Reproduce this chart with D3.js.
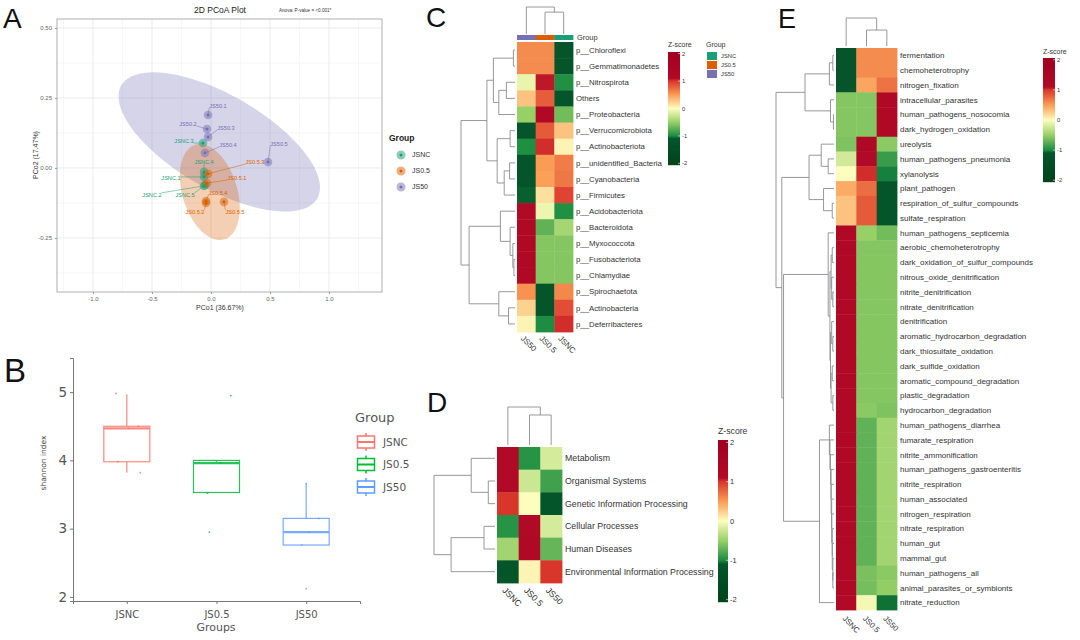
<!DOCTYPE html>
<html>
<head>
<meta charset="utf-8">
<script src="https://cdn.jsdelivr.net/npm/d3@7"></script>
<style>
  body { margin: 0; background: #fff; }
  svg { font-family: "Liberation Sans", Arial, sans-serif; }
</style>
</head>
<body>
<svg id="fig" width="1080" height="640"></svg>
<script>
// ---------- panel A : PCoA ----------
var groupNames = ["JSNC", "JS0.5", "JS50"];
var groupColours = ["#1b9e77", "#d95f02", "#7570b3"];

var sampleNames = ["JSNC.1", "JSNC.2", "JSNC.3", "JSNC.4", "JSNC.5",
                   "JS0.5.1", "JS0.5.2", "JS0.5.3", "JS0.5.4", "JS0.5.5",
                   "JS50.1", "JS50.2", "JS50.3", "JS50.4", "JS50.5"];
var sampleGroup = ["JSNC", "JSNC", "JSNC", "JSNC", "JSNC",
                   "JS0.5", "JS0.5", "JS0.5", "JS0.5", "JS0.5",
                   "JS50", "JS50", "JS50", "JS50", "JS50"];
var pco1 = [-0.059, -0.059, -0.068, -0.059, -0.051, -0.034, -0.042, -0.025, -0.042, 0.110, -0.025, -0.034, -0.025, -0.051, 0.483];
var pco2 = [-0.032, -0.064, 0.089, -0.014, -0.061, -0.054, -0.125, -0.021, -0.118, -0.121, 0.189, 0.139, 0.111, 0.054, 0.021];
// where the repelled labels ended up (data units)
var labelPco1 = [-0.339, -0.50, -0.229, -0.059, -0.22, 0.22, -0.136, 0.373, 0.059, 0.203, 0.059, -0.195, 0.127, 0.144, 0.576];
var labelPco2 = [-0.036, -0.096, 0.096, 0.021, -0.096, -0.036, -0.157, 0.021, -0.089, -0.157, 0.221, 0.157, 0.143, 0.082, 0.086];

var ellipseGroup = ["JS50", "JS0.5"];
var ellipseCentre = [[0.07, 0.093], [-0.01, -0.086]];
var ellipseAxisA = [[0.83, -0.202], [0.123, -0.169]];
var ellipseAxisB = [[-0.199, -0.145], [0.222, 0.0286]];

var pcoaXTicks = [-1.0, -0.5, 0.0, 0.5, 1.0];
var pcoaYTicks = [0.50, 0.25, 0.00, -0.25];

// ---------- panel B : shannon boxplot ----------
var alphaGroups = ["JSNC", "JS0.5", "JS50"];
var alphaColours = ["#F8766D", "#00BA38", "#619CFF"];
var whiskerLow = [3.82, 3.53, 2.76];
var hingeLow = [3.98, 3.53, 2.76];
var shannonMedian = [4.47, 3.96, 2.95];
var hingeHigh = [4.50, 4.00, 3.15];
var whiskerHigh = [4.97, 4.00, 3.66];
var shannonGroup = ["JSNC", "JSNC", "JSNC", "JSNC", "JSNC",
                    "JS0.5", "JS0.5", "JS0.5", "JS0.5", "JS0.5",
                    "JS50", "JS50", "JS50", "JS50", "JS50"];
var shannonValue = [4.98, 4.50, 4.47, 3.98, 3.82, 4.95, 3.99, 3.96, 3.52, 2.95, 3.66, 3.15, 2.95, 2.76, 2.12];
var shannonJitter = [-0.12, 0.13, 0.02, -0.10, 0.15, 0.16, 0.00, 0.05, -0.10, -0.08, 0.00, 0.14, 0.03, -0.05, 0.00];
var shannonTicks = [2, 3, 4, 5];

// ---------- heatmaps ----------
var zTicks = [2, 1, 0, -1, -2];
var zBreaks = [-2, -1.1, -1, -0.5, 0, 0.5, 1, 1.1, 2];
var zPalette = ["#00441b", "#05552b", "#1a8c41", "#98d068", "#fdfdbe", "#fa9c55", "#d9362b", "#b10a26", "#a20022"];

var N = function(h, a, b) { return {h: h, c: [a, b]}; };
var L = function(i) { return {i: i}; };

// C : phyla
var phylaCols = ["JS50", "JS0.5", "JSNC"];
var phylaRows = ["p__Chloroflexi", "p__Gemmatimonadetes", "p__Nitrospirota", "Others", "p__Proteobacteria",
  "p__Verrucomicrobiota", "p__Actinobacteriota", "p__unidentified_Bacteria", "p__Cyanobacteria", "p__Firmicutes",
  "p__Acidobacteriota", "p__Bacteroidota", "p__Myxococcota", "p__Fusobacteriota", "p__Chlamydiae",
  "p__Spirochaetota", "p__Actinobacteria", "p__Deferribacteres"];
var phylaZ = [
  [0.577, 0.577, -1.155], [0.577, 0.577, -1.155], [-0.10, 1.07, -0.97], [0.30, 0.81, -1.11],
  [-0.50, 1.15, -0.65], [-1.12, 0.82, 0.30], [-0.98, 1.02, 0.05], [-1.155, 0.50, 0.65],
  [-1.155, 0.48, 0.68], [-1.08, 0.15, 0.93], [1.10, -0.08, -0.97], [1.155, -0.72, -0.43],
  [1.155, -0.577, -0.577], [1.155, -0.577, -0.577], [1.155, -0.577, -0.577],
  [0.55, -1.155, 0.60], [0.22, -1.10, 0.88], [0.05, -0.99, 1.02]];
var phylaTop = N(0.52,
  N(0.40, N(0.03, L(0), L(1)), N(0.30, N(0.16, L(2), L(3)), L(4))),
  N(0.33, N(0.09, L(5), L(6)), N(0.20, N(0.10, L(7), L(8)), L(9))));
var phylaBottom = N(0.85,
  N(0.27, L(10), N(0.09, L(11), N(0.04, L(12), N(0.02, L(13), L(14))))),
  N(0.30, L(15), N(0.12, L(16), L(17))));
var phylaRowTree = N(1, phylaTop, phylaBottom);
var phylaColTree = N(1, L(0), N(0.81, L(1), L(2)));

// D : KEGG level 1
var keggCols = ["JSNC", "JS0.5", "JS50"];
var keggRows = ["Metabolism", "Organismal Systems", "Genetic Information Processing",
  "Cellular Processes", "Human Diseases", "Environmental Information Processing"];
var keggZ = [[1.10, -0.95, -0.20], [1.10, -0.25, -0.85], [1.00, 0.00, -1.12],
             [-0.95, 1.10, -0.20], [-0.45, 1.15, -0.70], [-1.12, 0.05, 1.00]];
var keggRowTree = N(1, N(0.39, L(0), N(0.11, L(1), L(2))), N(0.72, N(0.18, L(3), L(4)), L(5)));
var keggColTree = N(1, L(0), N(0.79, L(1), L(2)));

// E : FAPROTAX functions
var funcCols = ["JSNC", "JS0.5", "JS50"];
var funcRows = ["fermentation", "chemoheterotrophy", "nitrogen_fixation", "intracellular_parasites",
  "human_pathogens_nosocomia", "dark_hydrogen_oxidation", "ureolysis", "human_pathogens_pneumonia",
  "xylanolysis", "plant_pathogen", "respiration_of_sulfur_compounds", "sulfate_respiration",
  "human_pathogens_septicemia", "aerobic_chemoheterotrophy", "dark_oxidation_of_sulfur_compounds",
  "nitrous_oxide_denitrification", "nitrite_denitrification", "nitrate_denitrification", "denitrification",
  "aromatic_hydrocarbon_degradation", "dark_thiosulfate_oxidation", "dark_sulfide_oxidation",
  "aromatic_compound_degradation", "plastic_degradation", "hydrocarbon_degradation",
  "human_pathogens_diarrhea", "fumarate_respiration", "nitrite_ammonification",
  "human_pathogens_gastroenteritis", "nitrite_respiration", "human_associated", "nitrogen_respiration",
  "nitrate_respiration", "human_gut", "mammal_gut", "human_pathogens_all",
  "animal_parasites_or_symbionts", "nitrate_reduction"];
var funcZ = [
  [-1.155, 0.577, 0.577], [-1.155, 0.577, 0.577], [-1.15, 0.45, 0.70],
  [-0.577, -0.577, 1.155], [-0.577, -0.577, 1.155], [-0.577, -0.577, 1.155],
  [-0.60, 1.15, -0.55], [-0.22, 1.10, -0.88], [0.00, 1.02, -1.02],
  [0.42, 0.73, -1.15], [0.30, 0.82, -1.12], [0.30, 0.82, -1.12],
  [1.155, -0.50, -0.65], [1.155, -0.577, -0.577], [1.155, -0.577, -0.577], [1.155, -0.577, -0.577],
  [1.155, -0.577, -0.577], [1.155, -0.577, -0.577], [1.155, -0.577, -0.577], [1.155, -0.577, -0.577],
  [1.155, -0.577, -0.577], [1.155, -0.577, -0.577], [1.155, -0.577, -0.577], [1.155, -0.577, -0.577],
  [1.155, -0.55, -0.60],
  [1.15, -0.72, -0.45], [1.15, -0.72, -0.45], [1.15, -0.72, -0.45], [1.15, -0.72, -0.45], [1.15, -0.72, -0.45],
  [1.15, -0.72, -0.45], [1.15, -0.72, -0.45], [1.15, -0.72, -0.45], [1.15, -0.72, -0.45], [1.15, -0.72, -0.45],
  [1.155, -0.62, -0.55], [1.155, -0.64, -0.52], [1.10, -0.05, -1.05]];
var funcT1 = N(0.50, N(0.08, N(0.02, L(0), L(1)), L(2)), N(0.06, L(3), N(0.01, L(4), L(5))));
var funcT2 = N(0.43, N(0.22, L(6), N(0.10, L(7), L(8))), N(0.18, L(9), N(0.03, L(10), L(11))));
var funcA3a = N(0.05, N(0.03, L(13), L(14)), N(0.04, L(15), N(0.02, L(16), L(17))));
var funcA3b = N(0.06, N(0.04, L(18), N(0.02, L(19), L(20))), N(0.05, N(0.03, L(21), L(22)), N(0.02, L(23), L(24))));
var funcA3 = N(0.10, L(12), N(0.07, funcA3a, funcA3b));
var funcB3c = N(0.03, L(32), N(0.03, L(33), N(0.02, L(34), N(0.02, L(35), L(36)))));
var funcB3b = N(0.05, L(28), N(0.05, L(29), N(0.04, L(30), N(0.04, L(31), funcB3c))));
var funcB3 = N(0.25, N(0.08, L(25), N(0.07, L(26), N(0.06, L(27), funcB3b))), L(37));
var funcRowTree = N(1, funcT1, N(0.90, funcT2, N(0.87, funcA3, funcB3)));
var funcColTree = N(1, L(0), N(0.57, L(1), L(2)));

// =====================================================
var svg = d3.select("#fig");
var colourOf = d3.scaleOrdinal().domain(groupNames).range(groupColours);
var zColour = d3.scaleLinear().domain(zBreaks).range(zPalette).clamp(true);

function panelLetter(t, x, y, size) {
  svg.append("text").attr("x", x).attr("y", y).attr("font-size", size).attr("fill", "#111").text(t);
}

// ---------------- A ----------------
(function() {
  var g = svg.append("g");
  var x = d3.scaleLinear().domain([-1.305, 1.449]).range([57, 382]);
  var y = d3.scaleLinear().domain([-0.443, 0.532]).range([292, 19]);

  var xMinor = pcoaXTicks.map(function(t) { return t - 0.25; }).concat([1.25]);
  var yMinor = pcoaYTicks.map(function(t) { return t - 0.125; }).filter(function(t) { return t > -0.443 && t < 0.532; });

  g.append("rect").attr("x", 57).attr("y", 19).attr("width", 325).attr("height", 273).attr("fill", "#fff");
  g.selectAll(".vminor").data(xMinor).join("line")
    .attr("x1", x).attr("x2", x).attr("y1", 19).attr("y2", 292).attr("stroke", "#f2f2f2").attr("stroke-width", 0.6);
  g.selectAll(".hminor").data(yMinor).join("line")
    .attr("y1", y).attr("y2", y).attr("x1", 57).attr("x2", 382).attr("stroke", "#f2f2f2").attr("stroke-width", 0.6);
  g.selectAll(".vmajor").data(pcoaXTicks).join("line")
    .attr("x1", x).attr("x2", x).attr("y1", 19).attr("y2", 292).attr("stroke", "#e6e6e6").attr("stroke-width", 0.8);
  g.selectAll(".hmajor").data(pcoaYTicks).join("line")
    .attr("y1", y).attr("y2", y).attr("x1", 57).attr("x2", 382).attr("stroke", "#e6e6e6").attr("stroke-width", 0.8);

  // ellipses
  ellipseGroup.forEach(function(grp, k) {
    var c = ellipseCentre[k], a = ellipseAxisA[k], b = ellipseAxisB[k];
    var pts = d3.range(0, 361, 4).map(function(deg) {
      var t = deg * Math.PI / 180;
      return [x(c[0] + a[0] * Math.cos(t) + b[0] * Math.sin(t)), y(c[1] + a[1] * Math.cos(t) + b[1] * Math.sin(t))];
    });
    g.append("path").attr("d", d3.line()(pts) + "Z")
      .attr("fill", colourOf(grp)).attr("fill-opacity", 0.3).attr("stroke", "none");
  });

  g.append("rect").attr("x", 57).attr("y", 19).attr("width", 325).attr("height", 273)
    .attr("fill", "none").attr("stroke", "#a6a6a6").attr("stroke-width", 0.9);

  // points
  var pts = g.append("g");
  sampleNames.forEach(function(n, i) {
    pts.append("circle").attr("cx", x(pco1[i])).attr("cy", y(pco2[i])).attr("r", 4.3)
      .attr("fill", colourOf(sampleGroup[i])).attr("fill-opacity", 0.5);
    pts.append("circle").attr("cx", x(pco1[i])).attr("cy", y(pco2[i])).attr("r", 1.5)
      .attr("fill", colourOf(sampleGroup[i]));
  });

  // labels with segments
  sampleNames.forEach(function(n, i) {
    var t = g.append("text").attr("x", x(labelPco1[i])).attr("y", y(labelPco2[i])).attr("dy", "0.35em")
      .attr("text-anchor", "middle").attr("font-size", 5.6).attr("fill", colourOf(sampleGroup[i])).text(n);
    var bb = t.node().getBBox();
    var px = x(pco1[i]), py = y(pco2[i]);
    var qx = Math.max(bb.x, Math.min(px, bb.x + bb.width));
    var qy = Math.max(bb.y + 1, Math.min(py, bb.y + bb.height - 1));
    if (Math.hypot(qx - px, qy - py) > 5) {
      g.insert("line", "text").attr("x1", px).attr("y1", py).attr("x2", qx).attr("y2", qy)
        .attr("stroke", colourOf(sampleGroup[i])).attr("stroke-width", 0.5);
    }
  });

  // axes
  var xa = g.append("g").attr("transform", "translate(0,292)")
    .call(d3.axisBottom(x).tickValues(pcoaXTicks).tickSize(2).tickFormat(function(d) { return d.toFixed(1); }));
  var ya = g.append("g").attr("transform", "translate(57,0)")
    .call(d3.axisLeft(y).tickValues(pcoaYTicks).tickSize(2).tickFormat(function(d) { return d.toFixed(2); }));
  [xa, ya].forEach(function(a) {
    a.select(".domain").remove();
    a.selectAll("line").attr("stroke", "#999");
    a.selectAll("text").attr("fill", "#666").attr("font-size", 6).attr("font-family", "Liberation Sans, Arial");
  });

  g.append("text").attr("x", 220).attr("y", 13).attr("text-anchor", "middle").attr("font-size", 8.5).attr("fill", "#222").text("2D PCoA Plot");
  g.append("text").attr("x", 279).attr("y", 12).attr("font-size", 4.6).attr("fill", "#333").text("Anova: P-value = <0.001*");
  g.append("text").attr("x", 220).attr("y", 310).attr("text-anchor", "middle").attr("font-size", 7).attr("fill", "#333").text("PCo1 (36.67%)");
  g.append("text").attr("transform", "translate(38,155) rotate(-90)").attr("text-anchor", "middle").attr("font-size", 7).attr("fill", "#333").text("PCo2 (17.47%)");

  // legend
  g.append("text").attr("x", 389).attr("y", 141).attr("font-size", 8.5).attr("font-weight", "bold").attr("fill", "#222").text("Group");
  groupNames.forEach(function(n, i) {
    var cy = 155 + i * 16;
    g.append("circle").attr("cx", 401).attr("cy", cy).attr("r", 4.5).attr("fill", groupColours[i]).attr("fill-opacity", 0.5);
    g.append("circle").attr("cx", 401).attr("cy", cy).attr("r", 1.5).attr("fill", groupColours[i]);
    g.append("text").attr("x", 412).attr("y", cy).attr("dy", "0.35em").attr("font-size", 7).attr("fill", "#333").text(n);
  });
  panelLetter("A", 3, 28, 28);
})();

// ---------------- B ----------------
(function() {
  var g = svg.append("g");
  var x = d3.scalePoint().domain(alphaGroups).range([73, 360]).padding(0.6);
  var y = d3.scaleLinear().domain([1.94, 5.5]).range([601, 358]);
  var col = d3.scaleOrdinal().domain(alphaGroups).range(alphaColours);
  var step = x.step(), bw = 46;

  var xa = g.append("g").attr("transform", "translate(0,601)").call(d3.axisBottom(x).tickSize(3));
  var ya = g.append("g").attr("transform", "translate(73,0)")
    .call(d3.axisLeft(y).tickValues(shannonTicks).tickSize(3).tickFormat(d3.format("d")));
  [xa, ya].forEach(function(a) {
    a.select(".domain").attr("stroke", "#777").attr("stroke-width", 1);
    a.selectAll("line").attr("stroke", "#777");
    a.selectAll("text").attr("fill", "#555").attr("font-family", "DejaVu Sans, sans-serif");
  });
  ya.selectAll("text").attr("font-size", 13.5);
  xa.selectAll("text").attr("font-size", 10).attr("dy", "1.1em");

  alphaGroups.forEach(function(grp, i) {
    var cx = x(grp), c = col(grp);
    var bx = g.append("g").attr("stroke", c).attr("fill", "none").attr("opacity", 0.85);
    bx.append("line").attr("x1", cx).attr("x2", cx).attr("y1", y(hingeHigh[i])).attr("y2", y(whiskerHigh[i])).attr("stroke-width", 1.2);
    bx.append("line").attr("x1", cx).attr("x2", cx).attr("y1", y(hingeLow[i])).attr("y2", y(whiskerLow[i])).attr("stroke-width", 1.2);
    bx.append("rect").attr("x", cx - bw / 2).attr("y", y(hingeHigh[i])).attr("width", bw)
      .attr("height", y(hingeLow[i]) - y(hingeHigh[i])).attr("stroke-width", 1.2);
    bx.append("line").attr("x1", cx - bw / 2).attr("x2", cx + bw / 2).attr("y1", y(shannonMedian[i])).attr("y2", y(shannonMedian[i])).attr("stroke-width", 2.2);
  });
  shannonValue.forEach(function(v, i) {
    g.append("circle").attr("cx", x(shannonGroup[i]) + shannonJitter[i] * step).attr("cy", y(v)).attr("r", 0.9)
      .attr("fill", col(shannonGroup[i])).attr("opacity", 0.8);
  });

  g.append("text").attr("x", 216).attr("y", 631).attr("text-anchor", "middle").attr("font-size", 11).attr("fill", "#555")
    .attr("font-family", "DejaVu Sans, sans-serif").text("Groups");
  g.append("text").attr("transform", "translate(46,463) rotate(-90)").attr("text-anchor", "middle").attr("font-size", 7.5)
    .attr("fill", "#444").attr("font-family", "DejaVu Sans, sans-serif").text("shannon index");

  g.append("text").attr("x", 355).attr("y", 422).attr("font-size", 13).attr("fill", "#555")
    .attr("font-family", "DejaVu Sans, sans-serif").text("Group");
  alphaGroups.forEach(function(grp, i) {
    var cy = 442 + i * 22.5, c = col(grp);
    var k = g.append("g").attr("stroke", c).attr("fill", "#fff").attr("stroke-width", 1.5);
    k.append("line").attr("x1", 366).attr("x2", 366).attr("y1", cy - 9).attr("y2", cy + 9);
    k.append("rect").attr("x", 357.5).attr("y", cy - 6).attr("width", 17).attr("height", 12);
    k.append("line").attr("x1", 357.5).attr("x2", 374.5).attr("y1", cy).attr("y2", cy).attr("stroke-width", 2);
    g.append("text").attr("x", 383).attr("y", cy).attr("dy", "0.35em").attr("font-size", 10.5).attr("fill", "#555")
      .attr("font-family", "DejaVu Sans, sans-serif").text(grp);
  });
  panelLetter("B", 4, 382, 33);
})();

// ---------------- heatmap helpers ----------------
function dendro(g, tree, leafPos, hs, rowsMode) {
  var root = d3.hierarchy(tree, function(d) { return d.c; });
  root.eachAfter(function(n) {
    n.p = n.children ? d3.mean(n.children, function(c) { return c.p; }) : leafPos(n.data.i);
    n.hh = n.data.h || 0;
  });
  var pt = function(h, p) { return rowsMode ? [hs(h), p] : [p, hs(h)]; };
  var d = "";
  root.each(function(n) {
    if (!n.children) return;
    var a = n.children[0], b = n.children[1];
    d += "M" + pt(a.hh, a.p) + "L" + pt(n.hh, a.p) + "L" + pt(n.hh, b.p) + "L" + pt(b.hh, b.p);
  });
  g.append("path").attr("d", d).attr("fill", "none").attr("stroke", "#8c8c8c").attr("stroke-width", 0.9);
}

function heatmap(o) {
  var g = svg.append("g");
  var xb = d3.scaleBand().domain(d3.range(o.cols.length)).range([o.x, o.x + o.w]);
  var yb = d3.scaleBand().domain(d3.range(o.rows.length)).range([o.y, o.y + o.h]);
  o.z.forEach(function(row, i) {
    row.forEach(function(v, j) {
      g.append("rect").attr("x", xb(j)).attr("y", yb(i)).attr("width", xb.bandwidth() + 0.4)
        .attr("height", yb.bandwidth() + 0.4).attr("fill", zColour(v));
    });
  });
  g.selectAll(".rowlab").data(o.rows).join("text")
    .attr("x", o.x + o.w + 3).attr("y", function(d, i) { return yb(i) + yb.bandwidth() / 2; })
    .attr("dy", "0.35em").attr("font-size", o.fs).attr("fill", "#333").text(function(d) { return d; });
  o.cols.forEach(function(c, j) {
    g.append("text").attr("transform", "translate(" + (xb(j) + xb.bandwidth() / 2 + o.colDx) + "," + (o.y + o.h + o.colDy) + ") rotate(45)")
      .attr("font-size", o.colFs).attr("fill", "#333").text(c);
  });
  dendro(g, o.rowTree, function(i) { return yb(i) + yb.bandwidth() / 2; },
    d3.scaleLinear().domain([0, 1]).range([o.x - 2, o.rowLeft]), true);
  dendro(g, o.colTree, function(j) { return xb(j) + xb.bandwidth() / 2; },
    d3.scaleLinear().domain([0, 1]).range([o.colLeaf, o.colTop]), false);
  return {g: g, xb: xb, yb: yb};
}

function zLegend(x, y0, y1, w, fs, titleY) {
  var g = svg.append("g");
  var s = d3.scaleLinear().domain([2.06, -2.06]).range([y0, y1]);
  d3.range(y0, y1, 1).forEach(function(py) {
    g.append("rect").attr("x", x).attr("y", py).attr("width", w).attr("height", 1.2).attr("fill", zColour(s.invert(py + 0.5)));
  });
  zTicks.forEach(function(t) {
    g.append("line").attr("x1", x + w - 2).attr("x2", x + w).attr("y1", s(t)).attr("y2", s(t)).attr("stroke", "#fff").attr("stroke-width", 0.6);
    g.append("text").attr("x", x + w + 2).attr("y", s(t)).attr("dy", "0.35em").attr("font-size", fs).attr("fill", "#333").text(t);
  });
  g.append("text").attr("x", x).attr("y", titleY).attr("font-size", fs + 1.2).attr("fill", "#333").text("Z-score");
}

// ---------------- C ----------------
(function() {
  var hm = heatmap({rows: phylaRows, cols: phylaCols, z: phylaZ, x: 517, y: 42, w: 56, h: 290,
    rowTree: phylaRowTree, colTree: phylaColTree, rowLeft: 461, colLeaf: 34, colTop: 7,
    fs: 7.8, colFs: 8, colDx: -6, colDy: 7});
  phylaCols.forEach(function(c, j) {
    hm.g.append("rect").attr("x", hm.xb(j)).attr("y", 35).attr("width", hm.xb.bandwidth() + 0.4).attr("height", 5).attr("fill", colourOf(c));
  });
  hm.g.append("text").attr("x", 577).attr("y", 37.5).attr("dy", "0.35em").attr("font-size", 7.4).attr("fill", "#333").text("Group");
  zLegend(668, 52, 165, 12, 5.8, 47);
  var lg = svg.append("g");
  lg.append("text").attr("x", 706).attr("y", 47).attr("font-size", 7).attr("fill", "#333").text("Group");
  groupNames.forEach(function(n, i) {
    lg.append("rect").attr("x", 707).attr("y", 52 + i * 9).attr("width", 10).attr("height", 8).attr("fill", groupColours[i]);
    lg.append("text").attr("x", 721).attr("y", 56 + i * 9).attr("dy", "0.35em").attr("font-size", 5.8).attr("fill", "#333").text(n);
  });
  panelLetter("C", 426, 27, 28);
})();

// ---------------- D ----------------
(function() {
  heatmap({rows: keggRows, cols: keggCols, z: keggZ, x: 497, y: 447, w: 65, h: 136,
    rowTree: keggRowTree, colTree: keggColTree, rowLeft: 434, colLeaf: 445, colTop: 407,
    fs: 8.8, colFs: 8.8, colDx: -6, colDy: 8});
  zLegend(718, 440, 602, 10, 7.5, 434);
  panelLetter("D", 427, 412, 28);
})();

// ---------------- E ----------------
(function() {
  heatmap({rows: funcRows, cols: funcCols, z: funcZ, x: 836, y: 48, w: 61, h: 562,
    rowTree: funcRowTree, colTree: funcColTree, rowLeft: 776, colLeaf: 46, colTop: 18,
    fs: 8, colFs: 7.8, colDx: -4, colDy: 9});
  zLegend(1043, 58, 182, 12, 5.8, 54);
  panelLetter("E", 778, 28, 27);
})();
</script>
</body>
</html>
